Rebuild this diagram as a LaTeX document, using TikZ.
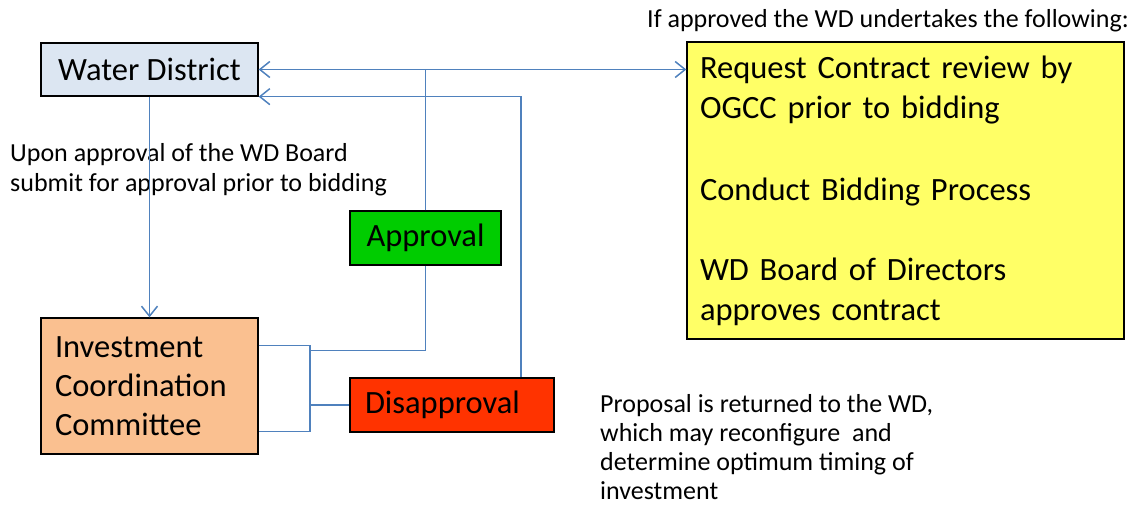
\documentclass[tikz,border=0pt]{standalone}
\usepackage{fontspec}
\setmainfont{Carlito}
\usepackage{tikz}
\usetikzlibrary{arrows.meta, positioning, calc}
\definecolor{cLine}{RGB}{79,129,189}
\definecolor{cWD}{RGB}{220,230,242}
\definecolor{cICC}{RGB}{250,192,144}
\definecolor{cOK}{RGB}{0,204,0}
\definecolor{cNo}{RGB}{255,51,0}
\definecolor{cTodo}{RGB}{255,255,102}
\tikzset{
	blk/.style ={rectangle, draw=black, line width=1.3pt, align=center, font=\fontsize{32.5}{39}\selectfont},
	sig/.style ={-{Straight Barb[length=10pt, width=16pt]}, cLine, line width=1.5pt},
	wire/.style={cLine, line width=1.5pt},
	% plain text beside the boxes
	note/.style={inner sep=0pt, align=left, font=\fontsize{26}{30}\selectfont},
}
\begin{document}
\begin{tikzpicture}[x=1pt, y=-1pt]
	\useasboundingbox (0,0) rectangle (1134,510);
	% boxes
	\node[blk, fill=cWD, minimum width=217pt, minimum height=53pt] (wd) at (149.5,69.5) {Water District};
	\node[blk, fill=cICC, minimum width=217pt, minimum height=136pt, inner xsep=14pt, text width=189pt, align=left] (icc) at (149.5,386) {Investment\\Coordination\\Committee};
	\node[blk, fill=cOK, minimum width=151pt, minimum height=54pt] (appr) at (425.5,238) {Approval};
	\node[blk, fill=cNo, minimum width=204pt, minimum height=54pt, inner xsep=15pt, text width=174pt, align=left] (disp) at (452,405) {Disapproval};
	\node[blk, fill=cTodo, minimum width=437pt, minimum height=297pt, inner xsep=13pt, text width=411pt, align=left, font=\fontsize{32.5}{40}\selectfont] (todo) at (905.5,190.5) {Request Contract review by\\OGCC prior to bidding\\[42pt]Conduct Bidding Process\\[40pt]WD Board of Directors\\approves contract};
	% texts
	\node[note, anchor=base west] (head) at (647,28) {If approved the WD undertakes the following:};
	\node[note, anchor=west] (upon) at (10,170) {Upon approval of the WD Board\\submit for approval prior to bidding};
	\node[note, anchor=west, font=\fontsize{26}{29}\selectfont] (back) at (600,447) {Proposal is returned to the WD,\\which may reconfigure~ and\\determine optimum timing of\\investment};
	% connectors
	\coordinate (split) at (appr.north |- wd.east);
	\coordinate (jn) at (309.5,350.5);
	\draw[sig] (wd.south) -- (icc.north);
	\draw[wire] (appr.north) -- (split);
	\draw[sig] (split) -- (wd.east);
	\draw[sig] (split) -- (split -| todo.west);
	\draw[sig] ([xshift=69pt]disp.north) |- (wd.south east);
	\draw[wire] ([yshift=-28pt]icc.north east) -- ++(51.5,0) |- ([yshift=23pt]icc.south east);
	\draw[wire] (jn) -| (appr.south);
	\draw[wire] (jn |- disp.west) -- (disp.west);
\end{tikzpicture}
\end{document}
